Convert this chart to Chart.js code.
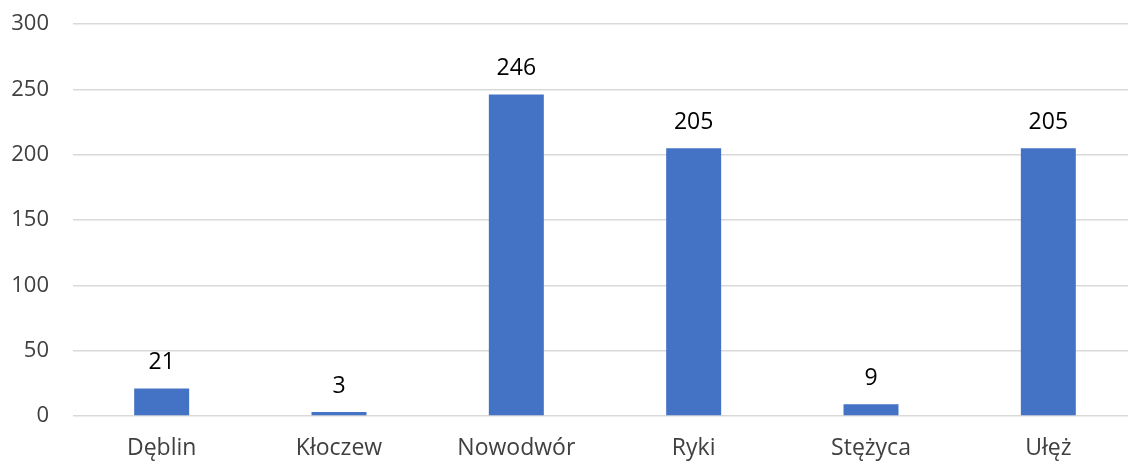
<!DOCTYPE html>
<html>
<head>
<meta charset="utf-8">
<script src="https://cdn.jsdelivr.net/npm/chart.js@4/dist/chart.umd.min.js"></script>
<style>
  html, body { margin: 0; padding: 0; background: #fff; overflow: hidden; width: 1128px; height: 464px; }
  #wrap { width: 1137px; height: 464px; position: relative; }
</style>
</head>
<body>
<div id="wrap"><canvas id="c"></canvas></div>
<script>
const categories = ["Dęblin", "Kłoczew", "Nowodwór", "Ryki", "Stężyca", "Ułęż"];
const values = [21, 3, 246, 205, 9, 205];
const yTicks = [0, 50, 100, 150, 200, 250, 300];

const FONT = '"Open Sans", "Noto Sans", sans-serif';

const dataLabels = {
  id: 'dataLabels',
  afterDatasetsDraw(chart) {
    const ctx = chart.ctx;
    const meta = chart.getDatasetMeta(0);
    ctx.save();
    ctx.font = '23px ' + FONT;
    ctx.fillStyle = '#000000';
    ctx.textAlign = 'center';
    ctx.textBaseline = 'middle';
    meta.data.forEach((bar, i) => {
      ctx.fillText(String(values[i]), bar.x, bar.y - 26);
    });
    ctx.restore();
  }
};

new Chart(document.getElementById('c'), {
  type: 'bar',
  data: {
    labels: categories,
    datasets: [{
      data: values,
      backgroundColor: '#4472C4',
      borderWidth: 0,
      barPercentage: 0.31,
      categoryPercentage: 1.0
    }]
  },
  options: {
    responsive: true,
    maintainAspectRatio: false,
    animation: false,
    layout: { padding: { top: 24, right: 0, bottom: 0, left: 0 } },
    plugins: { legend: { display: false }, tooltip: { enabled: false } },
    scales: {
      x: {
        grid: { display: false, drawTicks: false },
        border: { display: false },
        ticks: { color: '#404040', font: { family: FONT, size: 23 }, padding: 19, maxRotation: 0, autoSkip: false },
        afterFit(scale) { scale.height = 48; scale.paddingLeft = 0; scale.paddingRight = 0; }
      },
      y: {
        min: 0, max: 300,
        afterBuildTicks(scale) { scale.ticks = yTicks.map(v => ({ value: v })); },
        grid: { color: '#D9D9D9', lineWidth: 1.5, drawTicks: false },
        border: { display: false },
        ticks: { color: '#404040', font: { family: FONT, size: 22 }, padding: 24 },
        afterFit(scale) { scale.width = 73; scale.paddingTop = 0; scale.paddingBottom = 0; }
      }
    }
  },
  plugins: [dataLabels]
});
</script>
</body>
</html>
